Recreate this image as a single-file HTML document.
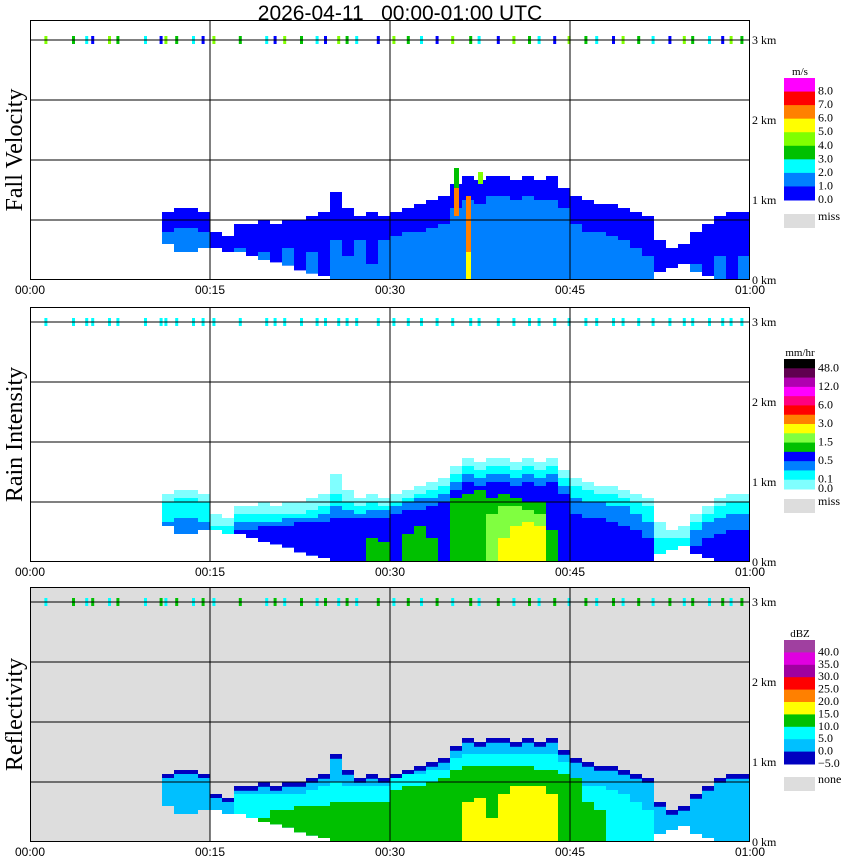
<!DOCTYPE html>
<html><head><meta charset="utf-8"><style>
body{margin:0;background:#fff}
svg{display:block}
text{font-family:"Liberation Sans",sans-serif}
.serif{font-family:"Liberation Serif",serif}
</style></head><body>
<svg id="chart" width="850" height="868" viewBox="0 0 850 868" xmlns="http://www.w3.org/2000/svg">
<rect x="0" y="0" width="850" height="868" fill="#fff"/>
</svg>
<script>
// ---- data (per-minute echo heights in km, minute index 0..59) ----
const Z11 = [0,0,0,0,0,0,0,0,0,0,0];
const echoTop = Z11.concat([.85,.9,.9,.85,.6,.55,.7,.7,.75,.7,.75,.75,.8,.85,1.1,.9,.8,.85,.8,.85,.9,.95,1.0,1.05,1.2,1.3,1.25,1.3,1.3,1.25,1.3,1.25,1.3,1.15,1.05,1.0,.95,.95,.9,.85,.8,.5,.4,.45,.6,.7,.8,.85,.85]);
const echoBottom = Z11.concat([.45,.35,.35,.4,.4,.35,.35,.3,.25,.22,.18,.12,.08,.05,0,0,0,0,0,0,0,0,0,0,0,0,0,0,0,0,0,0,0,0,0,0,0,0,0,0,0,.1,.15,.2,.1,.05,0,0,0]);
// fall velocity core (1-2 m/s)
const fvCore = Z11.concat([.6,.65,.65,.6,0,0,.4,0,.35,0,.4,0,.35,0,.5,.3,.5,.2,.5,.55,.6,.6,.65,.7,.9,1.0,.95,1.05,1.05,1.0,1.05,1.0,1.0,.9,.7,.6,.6,.55,.5,.4,.3,0,0,0,.2,0,.3,0,.3]);
// fall velocity streaks: minute, from km, to km, color
const fvStreakMin = [35, 35, 36, 36, 37];
const fvStreakLo  = [1.15, .8, 0, .35, 1.2];
const fvStreakHi  = [1.4, 1.15, .35, 1.05, 1.35];
const fvStreakCol = ["#00c000", "#ff8000", "#ffff00", "#ff8000", "#80ff00"];
// rain intensity layers
const rCyan  = Z11.concat([.75,.8,.8,.75,.45,.45,.6,.6,.6,.6,.6,.6,.65,.7,.85,.75,.7,.75,.7,.75,.8,.85,.9,.95,1.1,1.2,1.15,1.2,1.2,1.15,1.2,1.15,1.2,1.05,.95,.9,.85,.85,.8,.75,.7,.3,.3,.3,.5,.6,.7,.75,.75]);
const rMid   = Z11.concat([.5,.55,.55,.5,0,0,.5,.5,.5,.5,.55,.55,.55,.6,.7,.65,.6,.65,.65,.7,.75,.8,.8,.85,1.0,1.1,1.05,1.1,1.1,1.05,1.1,1.05,1.1,.95,.8,.75,.75,.7,.7,.6,.5,0,0,0,.4,.5,.55,.6,.6]);
const rBlue  = Z11.concat([0,.3,.3,0,0,0,.4,.4,.45,.45,.45,.5,.5,.5,.55,.55,.55,.55,.55,.6,.65,.65,.7,.75,.9,1.0,.95,1.0,1.0,.95,1.0,.95,1.0,.85,.6,.55,.55,.5,.45,.4,.3,0,0,0,.2,.3,.35,.4,.4]);
const rGreen = Z11.concat([0,0,0,0,0,0,0,0,0,0,0,0,0,0,0,0,0,.3,.25,0,.35,.45,.3,0,.8,.85,.9,.8,.85,.8,.75,.75,.4,0,0,0,0,0,0,0,0,0,0,0,0,0,0,0,0]);
const rLight = Z11.concat([0,0,0,0,0,0,0,0,0,0,0,0,0,0,0,0,0,0,0,0,0,0,0,0,0,0,0,.6,.7,.7,.65,.6,0,0,0,0,0,0,0,0,0,0,0,0,0,0,0,0,0]);
const rYellow= Z11.concat([0,0,0,0,0,0,0,0,0,0,0,0,0,0,0,0,0,0,0,0,0,0,0,0,0,0,0,0,.3,.45,.5,.45,0,0,0,0,0,0,0,0,0,0,0,0,0,0,0,0,0]);
// reflectivity layers
const zLB    = Z11.concat([.8,.85,.85,.8,.55,.5,.64,.64,.69,.64,.69,.69,.74,.79,1.04,.84,.74,.79,.74,.79,.84,.89,.94,.99,1.14,1.24,1.19,1.24,1.24,1.19,1.24,1.19,1.24,1.09,.99,.94,.89,.89,.84,.79,.74,.44,.34,.39,.54,.64,.74,.79,.79]);
const zCyan  = Z11.concat([0,0,0,0,0,0,.6,.6,.6,.6,.6,.6,.65,.7,.75,.7,.7,.7,.7,.8,.85,.85,.9,.9,1.05,1.1,1.1,1.1,1.1,1.1,1.1,1.1,1.1,1.0,.75,.7,.7,.65,.6,.5,.4,0,0,0,0,0,0,0,0]);
const zGreen = Z11.concat([0,0,0,0,0,0,0,0,.3,.4,.4,.45,.45,.45,.5,.5,.5,.5,.5,.65,.7,.7,.75,.8,.9,.95,.95,.95,.95,.95,.95,.9,.9,.85,.8,.5,.4,0,0,0,0,0,0,0,0,0,0,0,0]);
const zYellow= Z11.concat([0,0,0,0,0,0,0,0,0,0,0,0,0,0,0,0,0,0,0,0,0,0,0,0,0,.5,.55,.3,.6,.7,.7,.7,.6,0,0,0,0,0,0,0,0,0,0,0,0,0,0,0,0]);
// 3 km line speckles (minute positions)
const speckMin = [1.2,3.5,4.6,5.1,6.5,7.2,9.5,10.8,11.2,12.1,13.5,14.3,15.2,17.4,19.6,20.3,21.1,22.5,23.8,24.5,25.6,26.3,27.1,28.9,30.2,31.4,32.5,33.8,35.1,36.6,37.3,38.9,40.2,41.5,42.3,43.6,44.8,46.2,47.1,48.5,49.3,50.6,51.8,53.2,54.4,55.1,56.5,57.6,58.3,59.2];
const timeTicks = ["00:00","00:15","00:30","00:45","01:00"];
const kmTicks = ["0 km","1 km","2 km","3 km"];
const fvLegend = ["8.0","7.0","6.0","5.0","4.0","3.0","2.0","1.0","0.0"];
const fvColors = ["#ff00ff","#ff0000","#ff8000","#ffff00","#80ff00","#00c000","#00ffff","#0080ff","#0000ff"];
const rColors = ["#000000","#600050","#b000b0","#ff00ff","#ff0080","#ff0000","#ff8000","#ffff00","#80ff40","#00c000","#0000ff","#0080ff","#00ffff","#80ffff"];
const rLegend = ["48.0","","12.0","","6.0","","3.0","","1.5","","0.5","","0.1","0.0"];
const zColors = ["#a040a0","#e000e0","#a000a0","#ff0000","#ff8000","#ffff00","#00c000","#00ffff","#00c0ff","#0000c0"];
const zLegend = ["40.0","35.0","30.0","25.0","20.0","15.0","10.0","5.0","0.0","\u22125.0"];

const svg = document.getElementById('chart');
const NS = 'http://www.w3.org/2000/svg';
const X0 = 30, PXMIN = 12, PXKM = 80;
function xs(m){ return X0 + m*PXMIN; }
function mk(tag, attrs, parent){ const e=document.createElementNS(NS,tag); for(const k in attrs) e.setAttribute(k,attrs[k]); (parent||svg).appendChild(e); return e; }

const panels = [
  {name:'fall-velocity', title:'Fall Velocity', top:20, bottom:280, bg:'#fff'},
  {name:'rain-intensity', title:'Rain Intensity', top:307, bottom:562, bg:'#fff'},
  {name:'reflectivity', title:'Reflectivity', top:587, bottom:842, bg:'#dddddd'}
];
function ys(p,h){ return p.bottom - h*PXKM; }

function layer(g,p,arr,color,lo,name){
  for(let i=0;i<arr.length;i++){
    const b = lo ? lo[i] : 0;
    if(arr[i] > b){
      const r = mk('rect',{x:xs(i),y:ys(p,arr[i]),width:PXMIN,height:(arr[i]-b)*PXKM,fill:color},g);
      
      
    }
  }
}

panels.forEach((p,pi)=>{
  const g = mk('g',{});
  
  
  const bg = mk('rect',{x:X0,y:p.top,width:720,height:p.bottom-p.top,fill:p.bg},g);
  
  
  if(pi===0){
    layer(g,p,echoTop,'#0000ff',echoBottom,'echo-fv-slow');
    layer(g,p,fvCore,'#0080ff',echoBottom,'echo-fv-core');
    for(let k=0;k<fvStreakMin.length;k++){
      const r = mk('rect',{x:xs(fvStreakMin[k])+4,y:ys(p,fvStreakHi[k]),width:5,height:(fvStreakHi[k]-fvStreakLo[k])*PXKM,fill:fvStreakCol[k]},g);
      
      
    }
  } else if(pi===1){
    layer(g,p,echoTop,'#80ffff',echoBottom,'echo-rain-trace');
    layer(g,p,rCyan,'#00ffff',echoBottom,'echo-rain-light');
    layer(g,p,rMid,'#0080ff',echoBottom,'echo-rain-mid');
    layer(g,p,rBlue,'#0000ff',echoBottom,'echo-rain-moderate');
    layer(g,p,rGreen,'#00c000',null,'echo-rain-heavy');
    layer(g,p,rLight,'#80ff40',null,'echo-rain-heavier');
    layer(g,p,rYellow,'#ffff00',null,'echo-rain-intense');
  } else {
    const wb = echoBottom.map((v,i)=> (i>=15 && i<=56) ? v : 0);
    layer(g,p,wb,'#ffffff',null,'no-echo-region');
    layer(g,p,echoTop,'#0000c0',echoBottom,'echo-dbz-weak');
    layer(g,p,zLB,'#00c0ff',echoBottom,'echo-dbz-0');
    layer(g,p,zCyan,'#00ffff',echoBottom,'echo-dbz-5');
    layer(g,p,zGreen,'#00c000',echoBottom,'echo-dbz-10');
    layer(g,p,zYellow,'#ffff00',null,'echo-dbz-15');
  }
  const y3 = ys(p,3);
  const sc = pi===0 ? ['#80ff00','#00c000','#00ffff','#0000ff'] : pi===1 ? ['#00ffff','#00ffff'] : ['#00ffff','#00c000'];
  speckMin.forEach((m,k)=>{
    const r = mk('rect',{x:xs(m),y:y3-4,width:3,height:8,fill:sc[k%sc.length]},g);
    
    
  });
  for(let k=0;k<4;k++){
    const yy = ys(p,3) + 60*k;
    const l = mk('line',{x1:X0,x2:750,y1:yy,y2:yy,stroke:'#000','stroke-width':1},g);
    
    
  }
  for(let k=1;k<4;k++){
    const l = mk('line',{x1:xs(15*k),x2:xs(15*k),y1:p.top,y2:p.bottom,stroke:'#000','stroke-width':1},g);
    
    
  }
  const fr = mk('rect',{x:X0+0.5,y:p.top+0.5,width:719,height:p.bottom-p.top-1,fill:'none',stroke:'#000','stroke-width':1},g);
  
  
  timeTicks.forEach((t,k)=>{
    const tx = mk('text',{x:xs(15*k),y:p.bottom+14,'text-anchor':'middle','font-size':12},g);
    tx.textContent = t;
    
    
  });
  kmTicks.forEach((t,k)=>{
    const tx = mk('text',{x:752,y:ys(p,k)+4,'font-size':12,class:'serif'},g);
    tx.textContent = t;
    
    
  });
  const cy = (p.top+p.bottom)/2;
  const tt = mk('text',{x:22,y:cy,'text-anchor':'middle','font-size':24,class:'serif',transform:'rotate(-90 22 '+cy+')'},g);
  tt.textContent = p.title;
  
  
});

function legend(name,unit,colors,labels,top,bottom,missY,missLabel){
  const g = mk('g',{});
  
  
  const h = (bottom-top)/colors.length;
  const u = mk('text',{x:800,y:top-3,'text-anchor':'middle','font-size':11,class:'serif'},g);
  u.textContent = unit;
  
  
  colors.forEach((c,k)=>{
    const r = mk('rect',{x:784,y:top+k*h,width:31,height:h+0.5,fill:c},g);
    
    
    if(labels[k]){
      const t = mk('text',{x:818,y:top+(k+1)*h+3,'font-size':12,class:'serif'},g);
      t.textContent = labels[k];
      
      
    }
  });
  const m = mk('rect',{x:784,y:missY,width:31,height:14,fill:'#dddddd'},g);
  
  
  const mt = mk('text',{x:818,y:missY+6,'font-size':12,class:'serif'},g);
  mt.textContent = missLabel;
  
  
}
legend('fall-velocity-legend','m/s',fvColors,fvLegend,78,200,214,'miss');
legend('rain-intensity-legend','mm/hr',rColors,rLegend,359,489,499,'miss');
legend('reflectivity-legend','dBZ',zColors,zLegend,640,764,777,'none');

const ttl = mk('text',{x:400,y:20,'text-anchor':'middle','font-size':21,style:'white-space:pre'});
ttl.textContent = '2026-04-11   00:00-01:00 UTC';


</script>
</body></html>
